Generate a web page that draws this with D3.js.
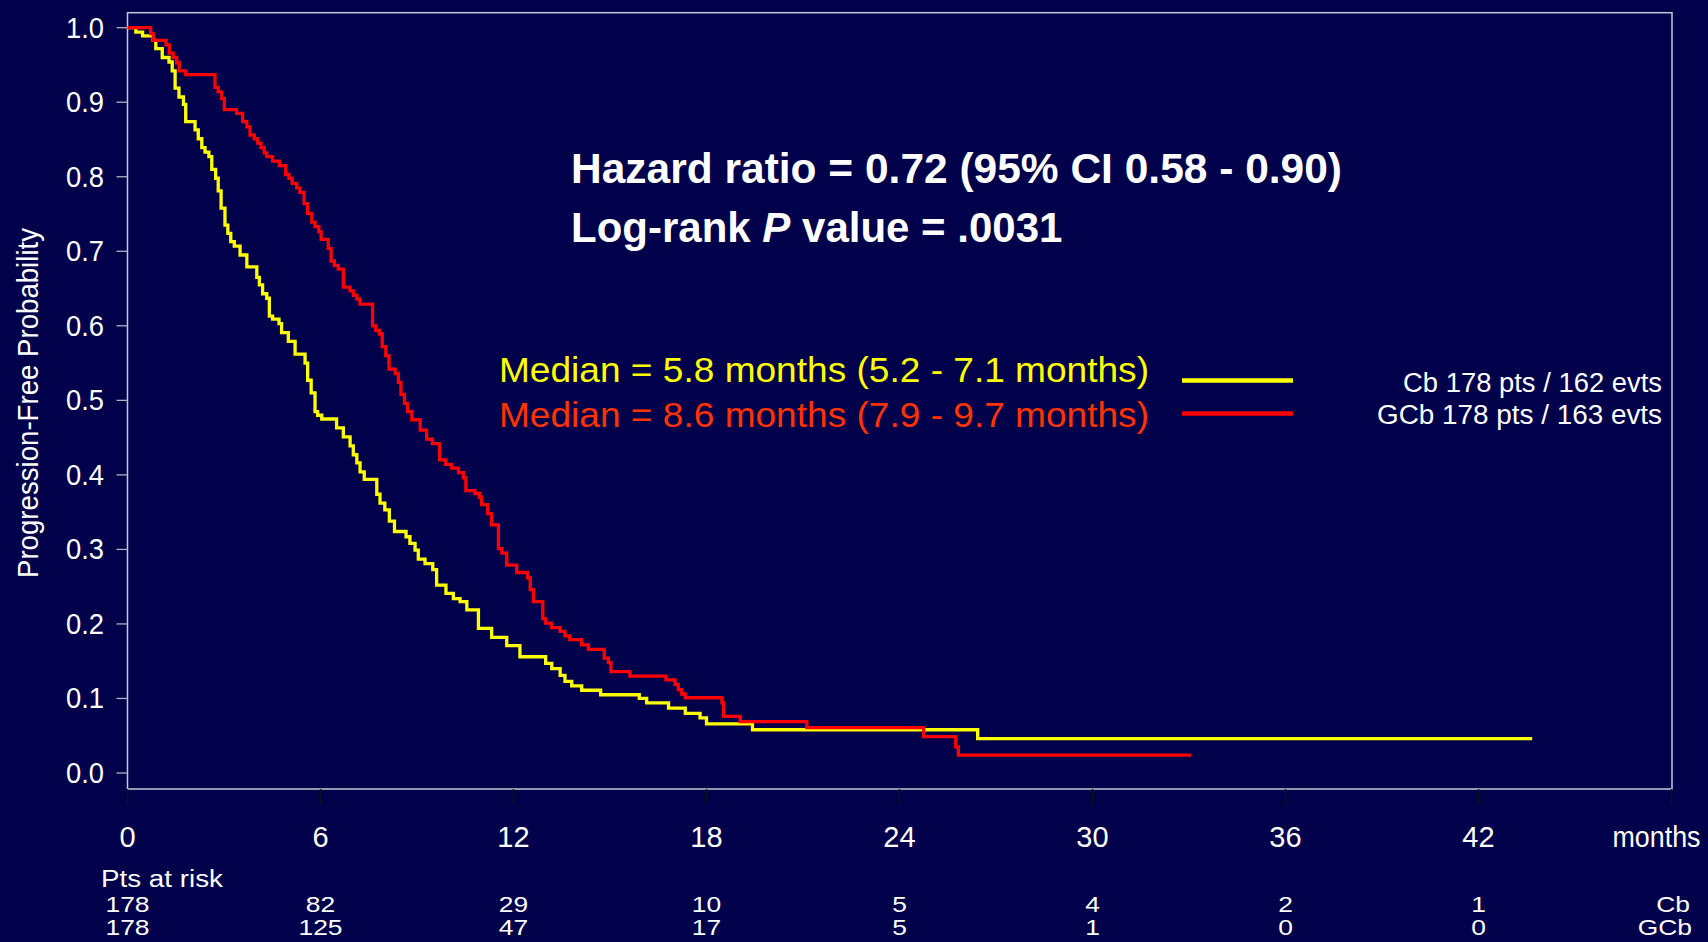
<!DOCTYPE html>
<html>
<head>
<meta charset="utf-8">
<script src="https://cdn.jsdelivr.net/npm/d3@7/dist/d3.min.js"></script>
<style>
  html, body { margin: 0; padding: 0; background: #00004b; }
  svg { display: block; font-family: "Liberation Sans", Arial, sans-serif; }
</style>
</head>
<body>
<svg id="chart" width="1708" height="942"></svg>
<script>
// Kaplan-Meier steps: event time (months) and survival after the event
const cbTimes = [0, 0.26, 0.47, 0.80, 0.88, 1.08, 1.29, 1.39, 1.48, 1.60, 1.74, 1.81, 2.10, 2.20, 2.31, 2.41, 2.53, 2.62, 2.74, 2.82,
  2.91, 3.03, 3.12, 3.21, 3.32, 3.50, 3.71, 4.02, 4.10, 4.20, 4.33, 4.41, 4.51, 4.71, 4.79, 5.00, 5.21, 5.52, 5.60, 5.71,
  5.83, 5.91, 6.04, 6.50, 6.71, 6.92, 7.02, 7.13, 7.23, 7.36, 7.75, 7.85, 8.00, 8.14, 8.30, 8.66, 8.78, 8.94, 9.04, 9.25,
  9.49, 9.61, 9.90, 10.13, 10.34, 10.55, 10.91, 11.32, 11.79, 12.20, 13.00, 13.19, 13.45, 13.60, 13.81, 14.12, 14.71, 15.91, 16.14, 16.82,
  17.34, 17.80, 18.00, 19.43, 26.43, 43.67];
const cbSurv = [1.0, 0.994, 0.989, 0.983, 0.972, 0.960, 0.954, 0.942, 0.919, 0.907, 0.897, 0.874, 0.863, 0.851, 0.839, 0.833, 0.827, 0.810, 0.798, 0.781,
  0.758, 0.735, 0.724, 0.713, 0.707, 0.695, 0.679, 0.665, 0.655, 0.643, 0.637, 0.613, 0.609, 0.603, 0.591, 0.579, 0.562, 0.550, 0.527, 0.510,
  0.485, 0.480, 0.475, 0.463, 0.451, 0.439, 0.427, 0.416, 0.404, 0.394, 0.374, 0.362, 0.353, 0.338, 0.324, 0.317, 0.308, 0.299, 0.287, 0.281,
  0.273, 0.252, 0.241, 0.234, 0.230, 0.219, 0.194, 0.182, 0.171, 0.156, 0.147, 0.140, 0.131, 0.123, 0.117, 0.111, 0.105, 0.100, 0.094, 0.087,
  0.080, 0.074, 0.066, 0.058, 0.046, 0.046];

const gcbTimes = [0, 0.72, 0.80, 1.20, 1.30, 1.42, 1.53, 1.61, 1.81, 2.72, 2.82, 2.93, 3.01, 3.39, 3.58, 3.71, 3.81, 3.94, 4.05, 4.15,
  4.25, 4.33, 4.51, 4.72, 4.92, 5.02, 5.12, 5.26, 5.36, 5.49, 5.60, 5.73, 5.83, 5.95, 6.02, 6.24, 6.33, 6.43, 6.55, 6.71,
  6.92, 7.02, 7.13, 7.23, 7.62, 7.72, 7.83, 7.92, 8.03, 8.13, 8.32, 8.42, 8.50, 8.61, 8.71, 8.84, 9.10, 9.30, 9.48, 9.70,
  9.89, 10.08, 10.29, 10.44, 10.52, 10.80, 10.94, 11.01, 11.20, 11.32, 11.53, 11.64, 11.79, 12.10, 12.44, 12.52, 12.62, 12.91, 13.00, 13.18,
  13.45, 13.60, 13.75, 14.12, 14.33, 14.82, 14.95, 15.03, 15.62, 16.74, 17.02, 17.12, 17.23, 17.34, 18.48, 18.53, 19.05, 21.12, 24.75, 25.75,
  25.83, 33.07];
const gcbSurv = [1.0, 0.992, 0.983, 0.977, 0.966, 0.960, 0.953, 0.942, 0.937, 0.920, 0.914, 0.905, 0.890, 0.885, 0.874, 0.867, 0.856, 0.851, 0.845, 0.839,
  0.832, 0.827, 0.821, 0.815, 0.803, 0.798, 0.791, 0.785, 0.779, 0.764, 0.751, 0.739, 0.733, 0.726, 0.716, 0.704, 0.687, 0.681, 0.676, 0.652,
  0.647, 0.641, 0.636, 0.629, 0.600, 0.594, 0.589, 0.572, 0.560, 0.542, 0.536, 0.524, 0.508, 0.496, 0.485, 0.474, 0.460, 0.448, 0.442, 0.420,
  0.414, 0.409, 0.403, 0.396, 0.379, 0.375, 0.370, 0.360, 0.348, 0.333, 0.301, 0.295, 0.279, 0.269, 0.262, 0.246, 0.230, 0.207, 0.201, 0.195,
  0.190, 0.184, 0.179, 0.172, 0.166, 0.154, 0.148, 0.136, 0.130, 0.125, 0.119, 0.112, 0.106, 0.101, 0.094, 0.076, 0.069, 0.061, 0.0487, 0.035,
  0.024, 0.024];

const xTicks = [0, 6, 12, 18, 24, 30, 36, 42, 48];
const yTicks = [0, 0.1, 0.2, 0.3, 0.4, 0.5, 0.6, 0.7, 0.8, 0.9, 1.0];
const riskTimes = [0, 6, 12, 18, 24, 30, 36, 42];
const cbRisk = [178, 82, 29, 10, 5, 4, 2, 1];
const gcbRisk = [178, 125, 47, 17, 5, 1, 0, 0];

const groups = ['Cb', 'GCb'];
const groupColors = ['#ffff00', '#ff0000'];
const legendLabels = ['Cb 178 pts / 162 evts', 'GCb 178 pts / 163 evts'];
const medianLabels = ['Median = 5.8 months (5.2 - 7.1 months)', 'Median = 8.6 months (7.9 - 9.7 months)'];
const medianColors = ['#ffff00', '#ff3300'];

const svg = d3.select('#chart');
const frame = { left: 127.5, right: 1672, top: 12.7, bottom: 789 };

const x = d3.scaleLinear().domain([0, 48]).range([127.5, 1671.5]);
const y = d3.scaleLinear().domain([0, 1]).range([773, 27.7]);

svg.append('rect').attr('width', 1708).attr('height', 942).attr('fill', '#00004b');

// plot frame
svg.append('rect')
  .attr('x', frame.left).attr('y', frame.top)
  .attr('width', frame.right - frame.left).attr('height', frame.bottom - frame.top)
  .attr('fill', 'none').attr('stroke', '#c8c8d8').attr('stroke-width', 1.5);

// y axis
const yAxis = svg.append('g');
yAxis.selectAll('line').data(yTicks).enter().append('line')
  .attr('x1', frame.left - 11).attr('x2', frame.left)
  .attr('y1', d => y(d)).attr('y2', d => y(d))
  .attr('stroke', '#b0b0c0').attr('stroke-width', 1.3);
yAxis.selectAll('text').data(yTicks).enter().append('text')
  .attr('x', 104).attr('y', d => y(d) + 10)
  .attr('text-anchor', 'end').attr('fill', '#ffffff')
  .attr('font-size', 29).attr('textLength', 38).attr('lengthAdjust', 'spacingAndGlyphs')
  .text(d => d3.format('.1f')(d));

svg.append('text')
  .attr('transform', 'translate(38,403) rotate(-90)')
  .attr('text-anchor', 'middle').attr('fill', '#ffffff')
  .attr('font-size', 29).attr('textLength', 350).attr('lengthAdjust', 'spacingAndGlyphs')
  .text('Progression-Free Probability');

// x axis
const xAxis = svg.append('g');
xAxis.selectAll('line').data(xTicks).enter().append('line')
  .attr('x1', d => x(d)).attr('x2', d => x(d))
  .attr('y1', frame.bottom).attr('y2', frame.bottom + 16)
  .attr('stroke', '#101010').attr('stroke-width', 1.5);
xAxis.selectAll('text').data(xTicks.slice(0, -1)).enter().append('text')
  .attr('x', d => x(d)).attr('y', 847)
  .attr('text-anchor', 'middle').attr('fill', '#ffffff').attr('font-size', 29)
  .text(d => d);
svg.append('text')
  .attr('x', x(48) - 15).attr('y', 847)
  .attr('text-anchor', 'middle').attr('fill', '#ffffff').attr('font-size', 29)
  .attr('textLength', 88).attr('lengthAdjust', 'spacingAndGlyphs')
  .text('months');

// survival curves
const line = d3.line()
  .x(d => x(d[0]))
  .y(d => y(d[1]))
  .curve(d3.curveStepAfter);

const curves = [d3.zip(cbTimes, cbSurv), d3.zip(gcbTimes, gcbSurv)];
svg.append('g').selectAll('path').data(curves).enter().append('path')
  .attr('d', line)
  .attr('fill', 'none')
  .attr('stroke', (d, i) => groupColors[i])
  .attr('stroke-width', 3.3)
  .attr('stroke-linejoin', 'miter');

// annotations
svg.append('text')
  .attr('x', 571).attr('y', 183)
  .attr('fill', '#ffffff').attr('font-size', 42).attr('font-weight', 'bold')
  .attr('textLength', 771).attr('lengthAdjust', 'spacingAndGlyphs')
  .text('Hazard ratio = 0.72 (95% CI 0.58 - 0.90)');
const logrank = svg.append('text')
  .attr('x', 571).attr('y', 242)
  .attr('fill', '#ffffff').attr('font-size', 42).attr('font-weight', 'bold');
logrank.append('tspan').text('Log-rank ');
logrank.append('tspan').attr('font-style', 'italic').text('P');
logrank.append('tspan').text(' value = .0031');

svg.append('g').selectAll('text').data(medianLabels).enter().append('text')
  .attr('x', 499).attr('y', (d, i) => 382 + i * 45)
  .attr('fill', (d, i) => medianColors[i]).attr('font-size', 35)
  .attr('textLength', 650).attr('lengthAdjust', 'spacingAndGlyphs')
  .text(d => d);

const legend = svg.append('g');
legend.selectAll('line').data(groups).enter().append('line')
  .attr('x1', 1182).attr('x2', 1293)
  .attr('y1', (d, i) => 380.5 + i * 33).attr('y2', (d, i) => 380.5 + i * 33)
  .attr('stroke', (d, i) => groupColors[i]).attr('stroke-width', 4.5);
legend.selectAll('text').data(legendLabels).enter().append('text')
  .attr('x', 1662).attr('y', (d, i) => 392 + i * 32)
  .attr('text-anchor', 'end').attr('fill', '#ffffff').attr('font-size', 27)
  .attr('textLength', (d, i) => i === 0 ? 259 : 285).attr('lengthAdjust', 'spacingAndGlyphs')
  .text(d => d);

// patients at risk
svg.append('text')
  .attr('x', 101).attr('y', 887)
  .attr('fill', '#ffffff').attr('font-size', 23)
  .attr('textLength', 122).attr('lengthAdjust', 'spacingAndGlyphs')
  .text('Pts at risk');

const riskRows = [cbRisk, gcbRisk];
riskRows.forEach((row, r) => {
  const g = svg.append('g');
  g.selectAll('text').data(row).enter().append('text')
    .attr('transform', (d, i) => 'translate(' + x(riskTimes[i]) + ',' + (912 + r * 23) + ') scale(1.2,1)')
    .attr('text-anchor', 'middle').attr('fill', '#ffffff').attr('font-size', 22)
    .text(d => d);
  g.append('text')
    .attr('transform', 'translate(' + (1690 + r * 2) + ',' + (912 + r * 23) + ') scale(1.2,1)')
    .attr('text-anchor', 'end').attr('fill', '#ffffff').attr('font-size', 22)
    .text(groups[r]);
});
</script>
</body>
</html>
